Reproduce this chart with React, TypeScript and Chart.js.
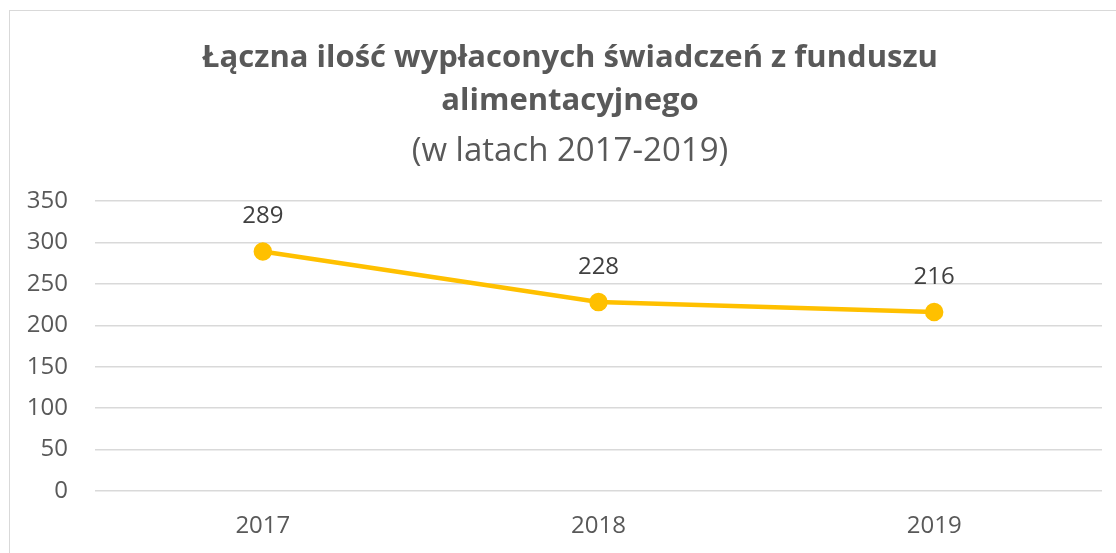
import React, { useEffect, useRef } from "react";
import { Chart, registerables } from "chart.js";

Chart.register(...registerables);

const categories = ["2017", "2018", "2019"];
const seriesValues = [289, 228, 216];
const yTicks = [0, 50, 100, 150, 200, 250, 300, 350];
const titleLines = ["Łączna ilość wypłaconych świadczeń z funduszu", "alimentacyjnego"];
const subtitleText = "(w latach 2017-2019)";

const FONT = "'Open Sans', 'DejaVu Sans', sans-serif";

const dataLabelPlugin = {
  id: "dataLabels",
  afterDatasetsDraw(chart: any) {
    const ctx = chart.ctx;
    const meta = chart.getDatasetMeta(0);
    ctx.save();
    ctx.font = `24px ${FONT}`;
    ctx.fillStyle = "#404040";
    ctx.textAlign = "center";
    ctx.textBaseline = "middle";
    meta.data.forEach((pt: any, i: number) => {
      ctx.fillText(String(seriesValues[i]), pt.x, pt.y - 35);
    });
    ctx.restore();
  },
};

// Center title and subtitle across the full canvas width (the chart area has right padding only)
const fullWidthTitlePlugin = {
  id: "fullWidthTitle",
  afterLayout(chart: any) {
    (chart.boxes || []).forEach((box: any) => {
      if (box && box.options && box.options.text !== undefined && box.position === "top") {
        box.left = 0;
        box.right = chart.width;
        box.width = chart.width;
      }
    });
  },
};

export default function App() {
  const ref = useRef<HTMLCanvasElement | null>(null);
  useEffect(() => {
    if (!ref.current) return;
    const chart = new Chart(ref.current, {
      type: "line",
      data: {
        labels: categories,
        datasets: [
          {
            data: seriesValues,
            borderColor: "#FFC000",
            backgroundColor: "#FFC000",
            borderWidth: 4.5,
            pointRadius: 7,
            pointHoverRadius: 7,
            pointBackgroundColor: "#FFC000",
            pointBorderColor: "#FFC000",
            tension: 0,
          },
        ],
      },
      options: {
        responsive: false,
        animation: false,
        layout: { padding: { left: 0, right: 28, top: 0, bottom: 0 } },
        plugins: {
          legend: { display: false },
          tooltip: { enabled: false },
          title: {
            display: true,
            text: titleLines,
            color: "#595959",
            font: { family: FONT, size: 31, weight: "bold", lineHeight: 43 / 31 },
            padding: { top: 26, bottom: 0 },
          },
          subtitle: {
            display: true,
            text: subtitleText,
            color: "#595959",
            font: { family: FONT, size: 33, weight: "normal", lineHeight: 40 / 33 },
            padding: { top: 9, bottom: 29 },
          },
        },
        scales: {
          x: {
            offset: true,
            grid: { display: false, drawTicks: false },
            border: { display: false },
            ticks: {
              color: "#595959",
              font: { family: FONT, size: 24 },
              padding: 21,
            },
            afterFit(scale: any) {
              scale.height = 74;
            },
          },
          y: {
            min: 0,
            max: 350,
            afterBuildTicks(scale: any) {
              scale.ticks = yTicks.map((v) => ({ value: v }));
            },
            grid: { color: "#d9d9d9", lineWidth: 1.5, drawTicks: false },
            border: { display: false },
            ticks: {
              color: "#595959",
              font: { family: FONT, size: 24 },
              padding: 27,
            },
            afterFit(scale: any) {
              scale.width = 85;
            },
          },
        },
      },
      plugins: [dataLabelPlugin, fullWidthTitlePlugin],
    });
    return () => chart.destroy();
  }, []);

  return (
    <div
      style={{
        position: "fixed",
        left: 0,
        top: 0,
        width: 1116,
        height: 553,
        overflow: "hidden",
        background: "#ffffff",
      }}
    >
      <div
        style={{
          position: "absolute",
          left: 9,
          top: 10,
          width: 1120,
          height: 554,
          border: "1px solid #d9d9d9",
          background: "#ffffff",
        }}
      >
        <canvas ref={ref} width={1120} height={554} style={{ display: "block" }} />
      </div>
    </div>
  );
}
